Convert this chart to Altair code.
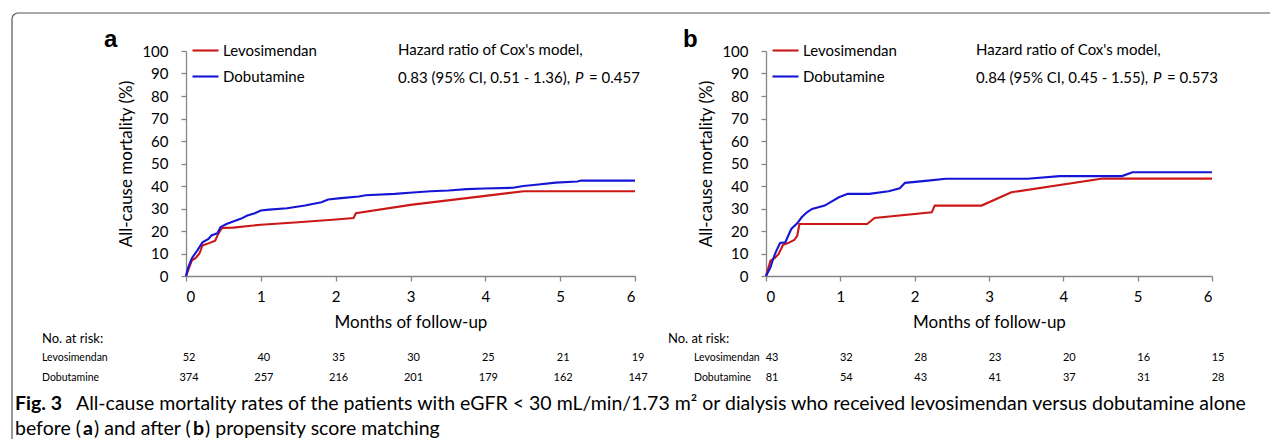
import math
import altair as alt
import pandas as pd

# ---------------- data ----------------
MONTH_TICKS = [0, 1, 2, 3, 4, 5, 6]
Y_TICKS = [0, 10, 20, 30, 40, 50, 60, 70, 80, 90, 100]
GROUPS = ["Levosimendan", "Dobutamine"]
COLORS = ["#cc1717", "#1515d6"]

# panel a (before matching)
a_levo_t = [0, 0.08, 0.13, 0.18, 0.22, 0.30, 0.39, 0.43, 0.48, 0.63, 1.0, 1.5, 2.0, 2.24, 2.27, 3.0, 4.0, 4.51, 6.0]
a_levo_y = [0, 7.0, 8.0, 10.0, 13.6, 14.5, 15.7, 18.7, 21.4, 21.5, 22.8, 23.9, 25.1, 25.8, 27.9, 31.6, 35.6, 37.7, 37.7]
a_dobu_t = [0, 0.03, 0.08, 0.15, 0.22, 0.30, 0.34, 0.42, 0.46, 0.54, 0.63, 0.73, 0.82, 0.92, 1.0, 1.11,
            1.35, 1.59, 1.81, 1.90, 2.07, 2.31, 2.40, 2.79, 3.03, 3.27, 3.51, 3.75, 3.99, 4.37, 4.51,
            4.71, 4.94, 5.23, 5.28, 6.0]
a_dobu_y = [0, 3.9, 8.0, 11.3, 15.0, 16.5, 18.0, 19.0, 21.7, 23.1, 24.2, 25.4, 26.9, 27.9, 29.1, 29.5,
            30.1, 31.3, 32.8, 34.0, 34.6, 35.3, 35.9, 36.5, 37.1, 37.7, 38.0, 38.6, 38.9, 39.2, 40.0,
            40.7, 41.5, 42.0, 42.4, 42.4]

# panel b (after matching)
b_levo_t = [0, 0.06, 0.12, 0.17, 0.23, 0.29, 0.38, 0.42, 0.45, 1.36, 1.46, 2.23, 2.27, 2.90, 3.30, 4.53, 6.0]
b_levo_y = [0, 6.8, 8.0, 9.8, 13.9, 14.5, 16.0, 17.9, 23.1, 23.1, 25.8, 28.3, 31.3, 31.3, 37.2, 43.3, 43.3]
b_dobu_t = [0, 0.06, 0.10, 0.14, 0.19, 0.26, 0.29, 0.34, 0.42, 0.48, 0.55, 0.62, 0.79, 0.98, 1.10,
            1.39, 1.65, 1.80, 1.87, 2.18, 2.42, 3.52, 3.95, 4.79, 4.93, 6.0]
b_dobu_y = [0, 3.9, 8.0, 11.3, 14.7, 15.0, 17.2, 20.9, 23.4, 26.1, 28.3, 29.8, 31.3, 35.0, 36.5,
            36.5, 37.7, 39.0, 41.4, 42.4, 43.2, 43.2, 44.4, 44.4, 46.1, 46.1]

# numbers at risk
risk_a_levo = [52, 40, 35, 30, 25, 21, 19]
risk_a_dobu = [374, 257, 216, 201, 179, 162, 147]
risk_b_levo = [43, 32, 28, 23, 20, 16, 15]
risk_b_dobu = [81, 54, 43, 41, 37, 31, 28]

hr_a = ["0.83 (95% CI, 0.51 - 1.36),", "P", "= 0.457"]
hr_b = ["0.84 (95% CI, 0.45 - 1.55),", "P", "= 0.573"]

CAPTION_1 = ("All-cause mortality rates of the patients with eGFR < 30 mL/min/1.73 m\u00b2 "
             "or dialysis who received levosimendan versus dobutamine alone")

FONT = "Lato"
CAP_FONT = "Lato"
CAP_SIZE = 19.5


def curve_df(lt, ly, dt, dy):
    rows = [{"month": t, "pct": v, "group": "Levosimendan", "k": i} for i, (t, v) in enumerate(zip(lt, ly))]
    rows += [{"month": t, "pct": v, "group": "Dobutamine", "k": i} for i, (t, v) in enumerate(zip(dt, dy))]
    return pd.DataFrame(rows)


def risk_df(levo, dobu):
    rows = [{"month": m, "n": n, "group": "Levosimendan"} for m, n in zip(MONTH_TICKS, levo)]
    rows += [{"month": m, "n": n, "group": "Dobutamine"} for m, n in zip(MONTH_TICKS, dobu)]
    return pd.DataFrame(rows)


ONE = alt.Data(values=[{"o": 1}])


def label(text, x, y, size=15, weight="normal", style="normal", align="left", font=FONT, color="#000"):
    return alt.Chart(ONE).mark_text(
        text=text, align=align, baseline="middle", font=font, fontSize=size,
        fontWeight=weight, fontStyle=style, color=color,
    ).encode(x=alt.value(x), y=alt.value(y))


def panel(letter, letter_x, df, rdf, hr, hr_x, p_x, eq_x, risk_head_x, risk_row_x, risk_dx, width, extra=None):
    x_enc = alt.X(
        "month:Q",
        scale=alt.Scale(domain=[0, 6], nice=False, zero=False),
        axis=alt.Axis(values=MONTH_TICKS, title="Months of follow-up", format="d",
                      tickSize=5, labelPadding=8, titlePadding=10),
    )
    y_enc = alt.Y(
        "pct:Q",
        scale=alt.Scale(domain=[0, 100], nice=False),
        axis=alt.Axis(values=Y_TICKS, title="All-cause mortality (%)", format="d",
                      tickSize=5, labelPadding=13, titlePadding=6),
    )
    lines = alt.Chart(df).mark_line(strokeWidth=2.1, interpolate="linear").encode(
        x=x_enc,
        y=y_enc,
        order="k:Q",
        color=alt.Color(
            "group:N",
            scale=alt.Scale(domain=GROUPS, range=COLORS),
            sort=GROUPS,
            legend=alt.Legend(
                title=None, orient="none", legendX=5, legendY=-15,
                symbolType="stroke", symbolSize=676, symbolStrokeWidth=2.1,
                labelFont=FONT, labelFontSize=15, labelColor="#000", labelOffset=3,
                rowPadding=3, padding=0,
            ),
        ),
    )
    risk_levo = alt.Chart(rdf).transform_filter(alt.datum.group == "Levosimendan").mark_text(
        font=FONT, fontSize=11, align="center", baseline="middle", dx=risk_dx, color="#000"
    ).encode(x=x_enc, y=alt.value(307), text="n:Q")
    risk_dobu = alt.Chart(rdf).transform_filter(alt.datum.group == "Dobutamine").mark_text(
        font=FONT, fontSize=11, align="center", baseline="middle", dx=risk_dx, color="#000"
    ).encode(x=x_enc, y=alt.value(327), text="n:Q")

    layers = [
        lines,
        label(letter, letter_x, -11, size=24, weight="bold", font="Liberation Sans"),
        label("Hazard ratio of Cox's model,", hr_x, -1),
        label(hr[0], hr_x, 27),
        label(hr[1], p_x, 27, style="italic"),
        label(hr[2], eq_x, 27),
        label("No. at risk:", risk_head_x, 288, size=13),
        label("Levosimendan", risk_row_x, 307, size=10.5),
        label("Dobutamine", risk_row_x, 327, size=10.5),
        risk_levo,
        risk_dobu,
    ]
    if extra:
        layers += extra
    return alt.layer(*layers).properties(width=width, height=225)


# frame and caption (drawn within panel a, positioned relative to its plot area)
frame_col = "#555555"
frame = [
    alt.Chart(ONE).mark_rule(color=frame_col, strokeWidth=1.2).encode(
        x=alt.value(-168), x2=alt.value(1084), y=alt.value(-38)),
    alt.Chart(ONE).mark_rule(color=frame_col, strokeWidth=1.2).encode(
        x=alt.value(-174), y=alt.value(-32), y2=alt.value(388)),
    alt.Chart(ONE).mark_arc(color=frame_col).encode(
        x=alt.value(-168), y=alt.value(-32),
        theta=alt.value(3 * math.pi / 2), theta2=alt.value(2 * math.pi),
        radius=alt.value(6.6), radius2=alt.value(5.4)),
]
caption = [
    label("Fig. 3", -171, 353, size=CAP_SIZE, weight="bold", font=CAP_FONT),
    label(CAPTION_1, -110, 353, size=CAP_SIZE, font=CAP_FONT),
    label("before (", -171, 378, size=CAP_SIZE, font=CAP_FONT),
    label("a", -103, 378, size=CAP_SIZE, weight="bold", font=CAP_FONT),
    label(") and after (", -92, 378, size=CAP_SIZE, font=CAP_FONT),
    label("b", 7, 378, size=CAP_SIZE, weight="bold", font=CAP_FONT),
    label(") propensity score matching", 19, 378, size=CAP_SIZE, font=CAP_FONT),
]

chart_a = panel("a", -82, curve_df(a_levo_t, a_levo_y, a_dobu_t, a_dobu_y),
                risk_df(risk_a_levo, risk_a_dobu), hr_a, 212, 389, 403,
                -144, -144, 3, 449, extra=frame + caption)
chart_b = panel("b", -83, curve_df(b_levo_t, b_levo_y, b_dobu_t, b_dobu_y),
                risk_df(risk_b_levo, risk_b_dobu), hr_b, 210, 387, 401,
                -98, -72, 6, 446)

chart = alt.hconcat(chart_a, chart_b, spacing=131, bounds="flush").resolve_scale(
    x="independent", y="independent", color="independent"
).resolve_legend(color="independent").properties(
    padding={"left": 3, "top": 4, "right": 0, "bottom": 0},
    background="white",
).configure_view(stroke=None).configure_axis(
    grid=False, domainColor="#868686", tickColor="#868686", domainWidth=1.3, tickWidth=1.3,
    labelFont=FONT, titleFont=FONT, labelFontSize=15, titleFontSize=17,
    titleFontWeight="normal", labelColor="#000", titleColor="#000",
)

chart.save("out.html", embed_options={"renderer": "svg", "actions": False})
